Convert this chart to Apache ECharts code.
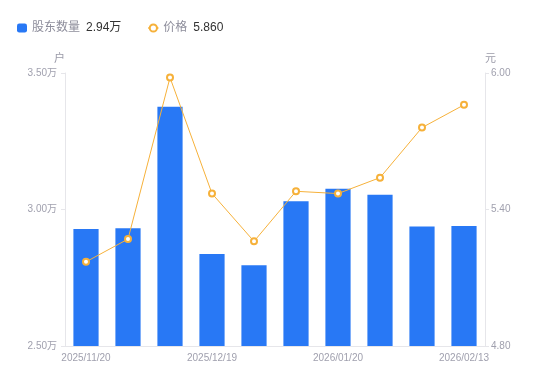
<!DOCTYPE html>
<html>
<head>
<meta charset="utf-8">
<script src="https://cdn.jsdelivr.net/npm/echarts@6/dist/echarts.min.js"></script>
<style>
html,body{margin:0;padding:0;background:#fff;}
#chart{width:550px;height:381px;}
</style>
</head>
<body>
<div id="chart"></div>
<script>
var categories = ['2025/11/20','2025/11/28','2025/12/10','2025/12/19','2025/12/31','2026/01/09','2026/01/20','2026/01/30','2026/02/10','2026/02/13'];
var holders = [29290, 29310, 33760, 28370, 27960, 30300, 30760, 30540, 29380, 29400];
var prices = [5.17, 5.27, 5.98, 5.47, 5.26, 5.48, 5.47, 5.54, 5.76, 5.86];
var leftTicks = [25000, 30000, 35000];
var rightTicks = [4.80, 5.40, 6.00];

var lastHolders = (holders[holders.length-1]/10000).toFixed(2) + '万';
var lastPrice = prices[prices.length-1].toFixed(3);

var chart = echarts.init(document.getElementById('chart'), null, {renderer:'canvas'});
var labelColor = '#a0a0ae';
var lineColor = '#e6e6ea';
chart.setOption({
  animation: false,
  textStyle: {fontFamily: '"Liberation Sans", "Noto Sans CJK SC", sans-serif'},
  legend: {
    left: 12, top: 17,
    itemWidth: 10, itemHeight: 9, itemGap: 26,
    data: [{name:'股东数量', icon:'roundRect'}, {name:'价格'}],
    formatter: function(name){
      return name === '股东数量' ? '{a|' + name + '}{b|' + lastHolders + '}' : '{a|' + name + '}{b|' + lastPrice + '}';
    },
    textStyle: {
      rich: {
        a: {color:'#8d8d9b', fontSize:12, padding:[0,6,0,0]},
        b: {color:'#333333', fontSize:12}
      }
    }
  },
  grid: {left: 65, right: 65, top: 73, bottom: 35},
  xAxis: {
    type: 'category',
    data: categories,
    axisLine: {lineStyle:{color: lineColor}},
    axisTick: {show:false},
    axisLabel: {interval: 2, color: labelColor, fontSize: 10, margin: 7}
  },
  yAxis: [
    {
      type: 'value', name: '户', min: leftTicks[0], max: leftTicks[2], interval: leftTicks[1]-leftTicks[0],
      nameGap: 9,
      nameTextStyle: {color:'#9a9aa8', fontSize:11, align:'right'},
      axisLine: {show:true, lineStyle:{color: lineColor}},
      axisTick: {show:true, length:4, lineStyle:{color: lineColor}},
      splitLine: {show:false},
      axisLabel: {color: labelColor, fontSize: 10, margin: 8,
        formatter: function(v){ return (v/10000).toFixed(2) + '万'; }}
    },
    {
      type: 'value', name: '元', min: rightTicks[0], max: rightTicks[2], interval: 0.6,
      nameGap: 9,
      nameTextStyle: {color:'#9a9aa8', fontSize:11, align:'left'},
      axisLine: {show:true, lineStyle:{color: lineColor}},
      axisTick: {show:true, length:4, lineStyle:{color: lineColor}},
      splitLine: {show:false},
      axisLabel: {color: labelColor, fontSize: 10, margin: 6,
        formatter: function(v){ return v.toFixed(2); }}
    }
  ],
  series: [
    {
      name: '股东数量', type: 'bar', yAxisIndex: 0, data: holders,
      barWidth: '60%',
      itemStyle: {color: '#2878f5'}
    },
    {
      name: '价格', type: 'line', yAxisIndex: 1, data: prices,
      symbol: 'emptyCircle', symbolSize: 6,
      lineStyle: {color:'#f6b13a', width:1},
      itemStyle: {color:'#f6b13a', borderWidth:1.8}
    }
  ]
});
</script>
</body>
</html>
